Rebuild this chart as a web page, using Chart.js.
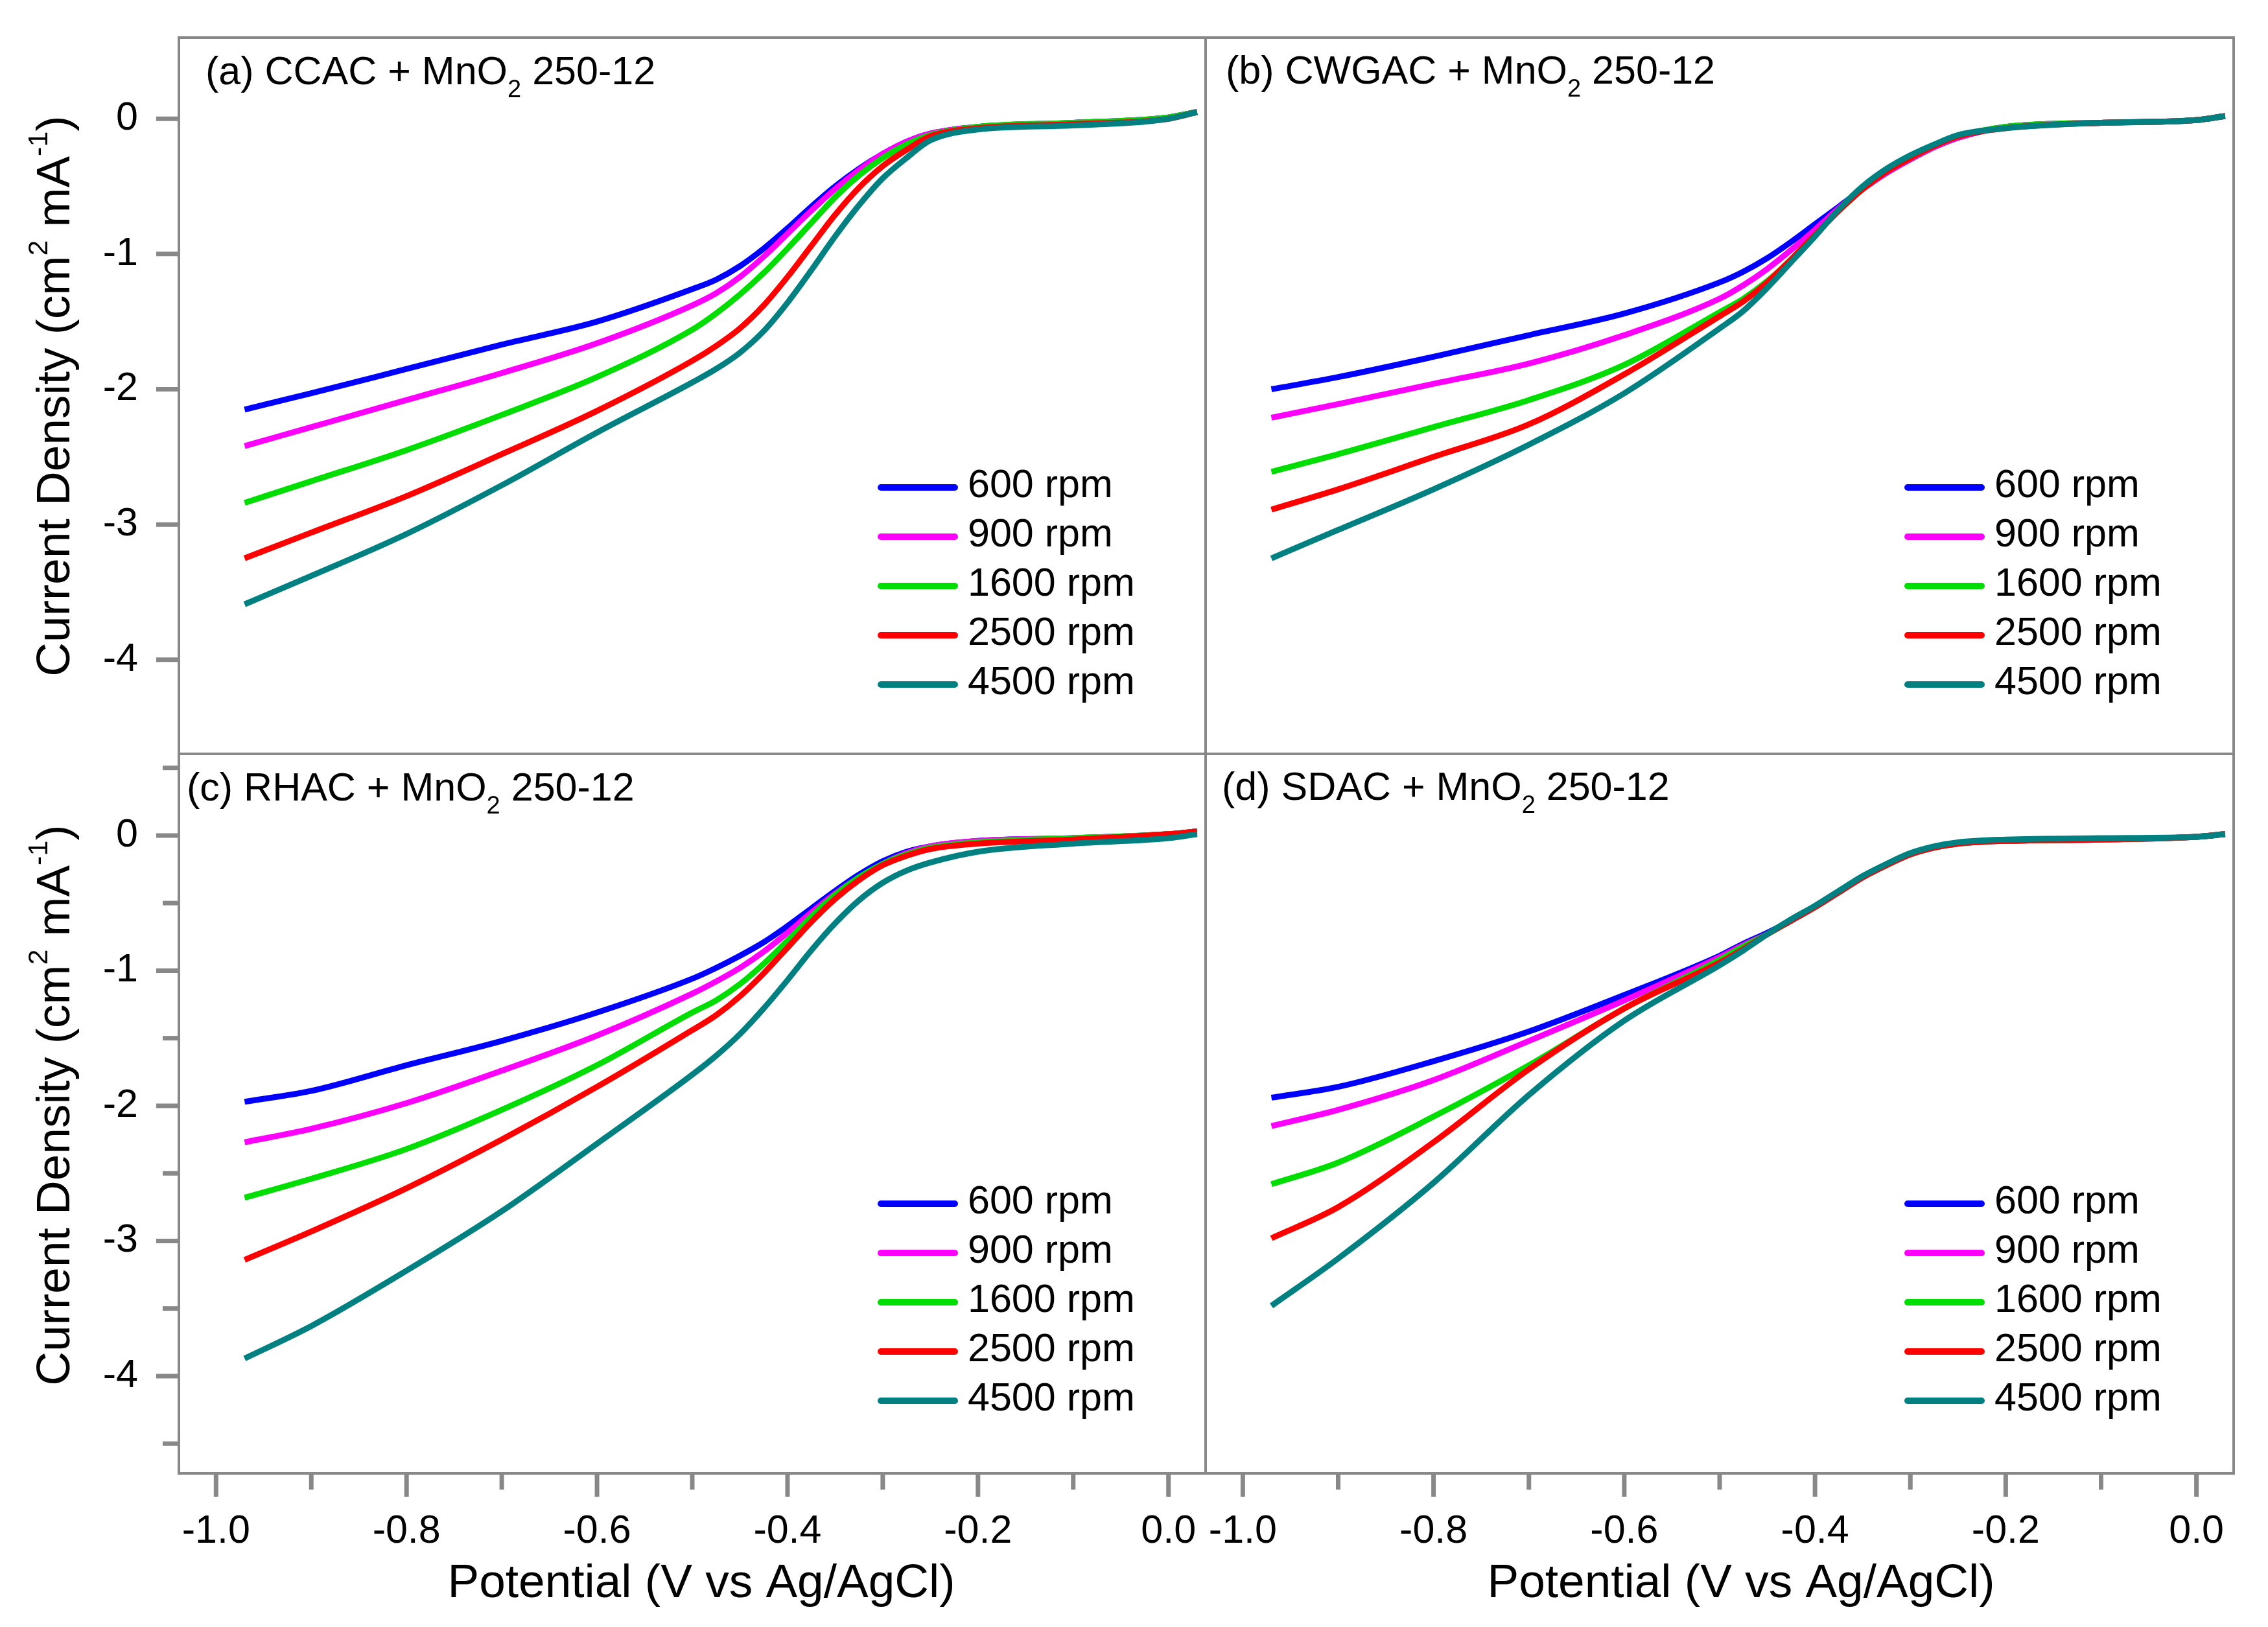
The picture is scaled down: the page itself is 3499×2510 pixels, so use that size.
<!DOCTYPE html>
<html lang="en">
<head>
<meta charset="UTF-8">
<title>RDE curves - AC + MnO2 250-12</title>
<script src="https://cdn.jsdelivr.net/npm/chart.js@4.4.1/dist/chart.umd.min.js"></script>
<style>
  body { margin: 0; background: #fff; }
  #wrap { position: relative; width: 3499px; height: 2510px; background: #fff; }
  canvas { position: absolute; left: 0; top: 0; }
</style>
</head>
<body>
<div id="wrap">
  <canvas id="pa" width="3499" height="2510"></canvas>
  <canvas id="pb" width="3499" height="2510"></canvas>
  <canvas id="pc" width="3499" height="2510"></canvas>
  <canvas id="pd" width="3499" height="2510"></canvas>
</div>
<script>
// potential (V vs Ag/AgCl), shared by every curve
const potential = [-0.97, -0.9, -0.8, -0.7, -0.6, -0.5, -0.475, -0.45, -0.425, -0.4,
                   -0.375, -0.35, -0.325, -0.3, -0.275, -0.25, -0.2, -0.1, 0, 0.03];
const speeds = ['600 rpm', '900 rpm', '1600 rpm', '2500 rpm', '4500 rpm'];
const colors = ['#0000ff', '#ff00ff', '#00dd00', '#ff0000', '#008080'];
const xTickValues = [-1.0, -0.8, -0.6, -0.4, -0.2, 0.0];
const yTickValues = [0, -1, -2, -3, -4];

// (a) CCAC
const ccac600  = [-2.15, -2.03, -1.85, -1.67, -1.50, -1.26, -1.19, -1.09, -0.96, -0.81, -0.65, -0.50, -0.37, -0.26, -0.17, -0.11, -0.06, -0.03, 0.01, 0.05];
const ccac900  = [-2.42, -2.28, -2.08, -1.88, -1.66, -1.38, -1.29, -1.17, -1.02, -0.85, -0.68, -0.52, -0.38, -0.26, -0.17, -0.11, -0.06, -0.03, 0.01, 0.05];
const ccac1600 = [-2.84, -2.68, -2.45, -2.19, -1.91, -1.56, -1.44, -1.30, -1.14, -0.96, -0.77, -0.58, -0.42, -0.29, -0.19, -0.12, -0.06, -0.03, 0.01, 0.05];
const ccac2500 = [-3.25, -3.06, -2.79, -2.48, -2.16, -1.79, -1.68, -1.55, -1.38, -1.17, -0.94, -0.71, -0.51, -0.35, -0.23, -0.13, -0.07, -0.04, 0.00, 0.05];
const ccac4500 = [-3.59, -3.38, -3.07, -2.71, -2.32, -1.95, -1.85, -1.73, -1.57, -1.36, -1.12, -0.87, -0.64, -0.44, -0.29, -0.16, -0.08, -0.05, 0.00, 0.05];

// (b) CWGAC
const cwgac600  = [-2.00, -1.91, -1.76, -1.60, -1.44, -1.21, -1.13, -1.03, -0.91, -0.78, -0.65, -0.52, -0.40, -0.30, -0.21, -0.14, -0.06, -0.03, -0.01, 0.02];
const cwgac900  = [-2.21, -2.11, -1.96, -1.81, -1.60, -1.33, -1.23, -1.11, -0.97, -0.82, -0.66, -0.52, -0.40, -0.30, -0.21, -0.14, -0.06, -0.03, -0.01, 0.02];
const cwgac1600 = [-2.61, -2.48, -2.28, -2.08, -1.82, -1.43, -1.33, -1.20, -1.04, -0.86, -0.68, -0.52, -0.39, -0.29, -0.20, -0.13, -0.06, -0.03, -0.01, 0.02];
const cwgac2500 = [-2.89, -2.74, -2.50, -2.26, -1.89, -1.46, -1.35, -1.21, -1.04, -0.86, -0.68, -0.52, -0.39, -0.29, -0.20, -0.13, -0.07, -0.03, -0.01, 0.02];
const cwgac4500 = [-3.25, -3.04, -2.74, -2.41, -2.03, -1.55, -1.42, -1.25, -1.06, -0.87, -0.67, -0.50, -0.37, -0.27, -0.19, -0.12, -0.07, -0.03, -0.01, 0.02];

// (c) RHAC
const rhac600  = [-1.97, -1.89, -1.70, -1.52, -1.31, -1.06, -0.98, -0.89, -0.79, -0.67, -0.54, -0.41, -0.29, -0.19, -0.12, -0.08, -0.04, -0.02, 0.01, 0.03];
const rhac900  = [-2.27, -2.17, -1.98, -1.74, -1.48, -1.17, -1.08, -0.98, -0.86, -0.72, -0.57, -0.43, -0.31, -0.21, -0.13, -0.08, -0.04, -0.02, 0.01, 0.03];
const rhac1600 = [-2.68, -2.54, -2.32, -2.03, -1.70, -1.31, -1.22, -1.10, -0.95, -0.78, -0.60, -0.44, -0.31, -0.21, -0.14, -0.09, -0.05, -0.02, 0.01, 0.03];
const rhac2500 = [-3.14, -2.93, -2.61, -2.25, -1.86, -1.44, -1.33, -1.19, -1.02, -0.83, -0.64, -0.47, -0.33, -0.22, -0.15, -0.10, -0.06, -0.03, 0.01, 0.03];
const rhac4500 = [-3.87, -3.63, -3.22, -2.78, -2.28, -1.77, -1.63, -1.47, -1.28, -1.07, -0.85, -0.65, -0.48, -0.35, -0.26, -0.20, -0.12, -0.06, -0.02, 0.01];

// (d) SDAC
const sdac600  = [-1.94, -1.86, -1.67, -1.45, -1.18, -0.89, -0.80, -0.72, -0.63, -0.53, -0.42, -0.31, -0.22, -0.14, -0.09, -0.06, -0.04, -0.03, -0.01, 0.01];
const sdac900  = [-2.15, -2.03, -1.81, -1.52, -1.22, -0.90, -0.81, -0.73, -0.63, -0.53, -0.42, -0.31, -0.22, -0.14, -0.09, -0.06, -0.04, -0.03, -0.01, 0.01];
const sdac1600 = [-2.58, -2.42, -2.08, -1.70, -1.28, -0.92, -0.82, -0.73, -0.63, -0.53, -0.42, -0.31, -0.22, -0.14, -0.09, -0.06, -0.04, -0.03, -0.01, 0.01];
const sdac2500 = [-2.98, -2.75, -2.27, -1.73, -1.28, -0.94, -0.84, -0.73, -0.63, -0.53, -0.42, -0.31, -0.22, -0.14, -0.09, -0.06, -0.04, -0.03, -0.01, 0.01];
const sdac4500 = [-3.48, -3.13, -2.57, -1.92, -1.37, -0.96, -0.85, -0.73, -0.62, -0.52, -0.41, -0.30, -0.21, -0.13, -0.08, -0.05, -0.03, -0.02, -0.01, 0.01];

const FONT = '"Liberation Sans", Arial, sans-serif';
const GRAY = '#888888';
const W = 3499, H = 2510;

Chart.defaults.font.family = FONT;
Chart.defaults.color = '#000';

// draws text pieces with sub/superscripts, returns total width
function richText(ctx, parts, x, y, measureOnly) {
  let cx = x;
  parts.forEach(p => {
    ctx.font = p[1] + 'px ' + FONT;
    if (!measureOnly) ctx.fillText(p[0], cx, y + p[2]);
    cx += ctx.measureText(p[0]).width;
  });
  return cx - x;
}

// frame, tick marks, panel label, legend and axis titles
const panelDecor = {
  id: 'panelDecor',
  afterDraw(chart, args, o) {
    const ctx = chart.ctx;
    const ca = chart.chartArea;
    ctx.save();
    ctx.strokeStyle = GRAY;
    ctx.lineWidth = 7;
    ctx.lineCap = 'butt';

    if (o.showY) {
      const ys = chart.scales.y;
      ys.ticks.forEach(t => {
        const major = Math.abs(t.value - Math.round(t.value)) < 1e-6;
        if (!major && !o.yMinor) return;
        const py = ys.getPixelForValue(t.value);
        ctx.beginPath();
        ctx.moveTo(ca.left - (major ? 35 : 25), py);
        ctx.lineTo(ca.left, py);
        ctx.stroke();
      });
    }
    if (o.showX) {
      const xs = chart.scales.x;
      xs.ticks.forEach(t => {
        const major = Math.round(t.value * 10) % 2 === 0;
        const px = xs.getPixelForValue(t.value);
        ctx.beginPath();
        ctx.moveTo(px, ca.bottom);
        ctx.lineTo(px, ca.bottom + (major ? 36 : 25));
        ctx.stroke();
      });
    }

    // frame
    ctx.lineWidth = 4;
    ctx.strokeRect(ca.left, ca.top, ca.right - ca.left, ca.bottom - ca.top);

    // panel label
    ctx.fillStyle = '#000';
    ctx.textBaseline = 'alphabetic';
    ctx.textAlign = 'left';
    richText(ctx, [[o.label, 61, 0], ['2', 38, 20], [' 250-12', 61, 0]], o.labelX, o.labelY);

    // legend
    chart.data.datasets.forEach((ds, i) => {
      const ry = ca.top + 694 + i * 76;
      ctx.strokeStyle = ds.borderColor;
      ctx.lineWidth = 10;
      ctx.lineCap = 'round';
      ctx.beginPath();
      ctx.moveTo(ca.left + 1083, ry);
      ctx.lineTo(ca.left + 1197, ry);
      ctx.stroke();
      ctx.font = '61px ' + FONT;
      ctx.textBaseline = 'middle';
      ctx.fillText(ds.label, ca.left + 1217, ry - 2);
    });

    // y title
    if (o.showY) {
      const parts = [['Current Density (cm', 73, 0], ['2', 43, -34], [' mA', 73, 0], ['-1', 43, -34], [')', 73, 0]];
      ctx.translate(107, o.yTitleY);
      ctx.rotate(-Math.PI / 2);
      ctx.textBaseline = 'alphabetic';
      const w = richText(ctx, parts, 0, 0, true);
      richText(ctx, parts, -w / 2, 0);
      ctx.setTransform(1, 0, 0, 1, 0, 0);
    }
    // x title
    if (o.showX) {
      ctx.font = '73px ' + FONT;
      ctx.textAlign = 'center';
      ctx.textBaseline = 'alphabetic';
      ctx.fillText('Potential (V vs Ag/AgCl)', o.xTitleX, 2464);
    }
    ctx.restore();
  }
};

function makePanel(id, series, p) {
  const datasets = series.map((vals, i) => ({
    label: speeds[i],
    data: potential.map((x, j) => ({ x: x, y: vals[j] })),
    borderColor: colors[i],
    backgroundColor: colors[i],
    borderWidth: 9,
    pointRadius: 0,
    fill: false,
    cubicInterpolationMode: 'monotone',
    order: series.length - 1 - i
  }));

  new Chart(document.getElementById(id), {
    type: 'line',
    data: { datasets: datasets },
    plugins: [panelDecor],
    options: {
      responsive: false,
      animation: false,
      devicePixelRatio: 1,
      layout: {
        padding: {
          left: p.left - (p.showY ? 276 : 0),
          right: W - p.right,
          top: p.top,
          bottom: H - p.bottom - (p.showX ? 237 : 0)
        }
      },
      plugins: {
        legend: { display: false },
        tooltip: { enabled: false },
        panelDecor: p
      },
      scales: {
        x: {
          type: 'linear',
          min: -1.039,
          max: 0.039,
          display: p.showX,
          grid: { display: false },
          border: { display: false },
          ticks: {
            stepSize: 0.1,
            includeBounds: false,
            autoSkip: false,
            maxRotation: 0,
            padding: 46,
            font: { size: 61 },
            color: '#000',
            callback: v => {
              const k = Math.round(v * 10);
              if (k % 2 !== 0) return '';
              const lab = (k / 10).toFixed(1);
              return xTickValues.some(t => t.toFixed(1) === lab) ? lab : '';
            }
          },
          afterFit: s => {
            if (!p.showX) return;
            s.height = 237; s.paddingLeft = 0; s.paddingRight = 0;
          }
        },
        y: {
          type: 'linear',
          min: p.yMin,
          max: p.yMax,
          display: p.showY,
          grid: { display: false },
          border: { display: false },
          ticks: {
            stepSize: 0.5,
            includeBounds: false,
            autoSkip: false,
            padding: 55,
            font: { size: 61 },
            color: '#000',
            callback: v => {
              const k = Math.round(v * 2);
              if (k % 2 !== 0) return '';
              return yTickValues.includes(k / 2) ? String(k / 2) : '';
            }
          },
          afterFit: s => {
            if (!p.showY) return;
            s.width = 276; s.paddingTop = 0; s.paddingBottom = 0;
          }
        }
      }
    }
  });
}

makePanel('pa', [ccac600, ccac900, ccac1600, ccac2500, ccac4500], {
  left: 276, right: 1860, top: 58, bottom: 1163, yMin: -4.696, yMax: 0.6,
  showX: false, showY: true, yMinor: false,
  label: '(a) CCAC + MnO', labelX: 317, labelY: 130, yTitleY: 611
});
makePanel('pb', [cwgac600, cwgac900, cwgac1600, cwgac2500, cwgac4500], {
  left: 1860, right: 3446, top: 58, bottom: 1163, yMin: -4.696, yMax: 0.6,
  showX: false, showY: false,
  label: '(b) CWGAC + MnO', labelX: 1891, labelY: 129
});
makePanel('pc', [rhac600, rhac900, rhac1600, rhac2500, rhac4500], {
  left: 276, right: 1860, top: 1163, bottom: 2273, yMin: -4.72, yMax: 0.604,
  showX: true, showY: true, yMinor: true,
  label: '(c) RHAC + MnO', labelX: 288, labelY: 1235, yTitleY: 1705, xTitleX: 1082
});
makePanel('pd', [sdac600, sdac900, sdac1600, sdac2500, sdac4500], {
  left: 1860, right: 3446, top: 1163, bottom: 2273, yMin: -4.72, yMax: 0.604,
  showX: true, showY: false,
  label: '(d) SDAC + MnO', labelX: 1885, labelY: 1234, xTitleX: 2686
});
</script>
</body>
</html>
